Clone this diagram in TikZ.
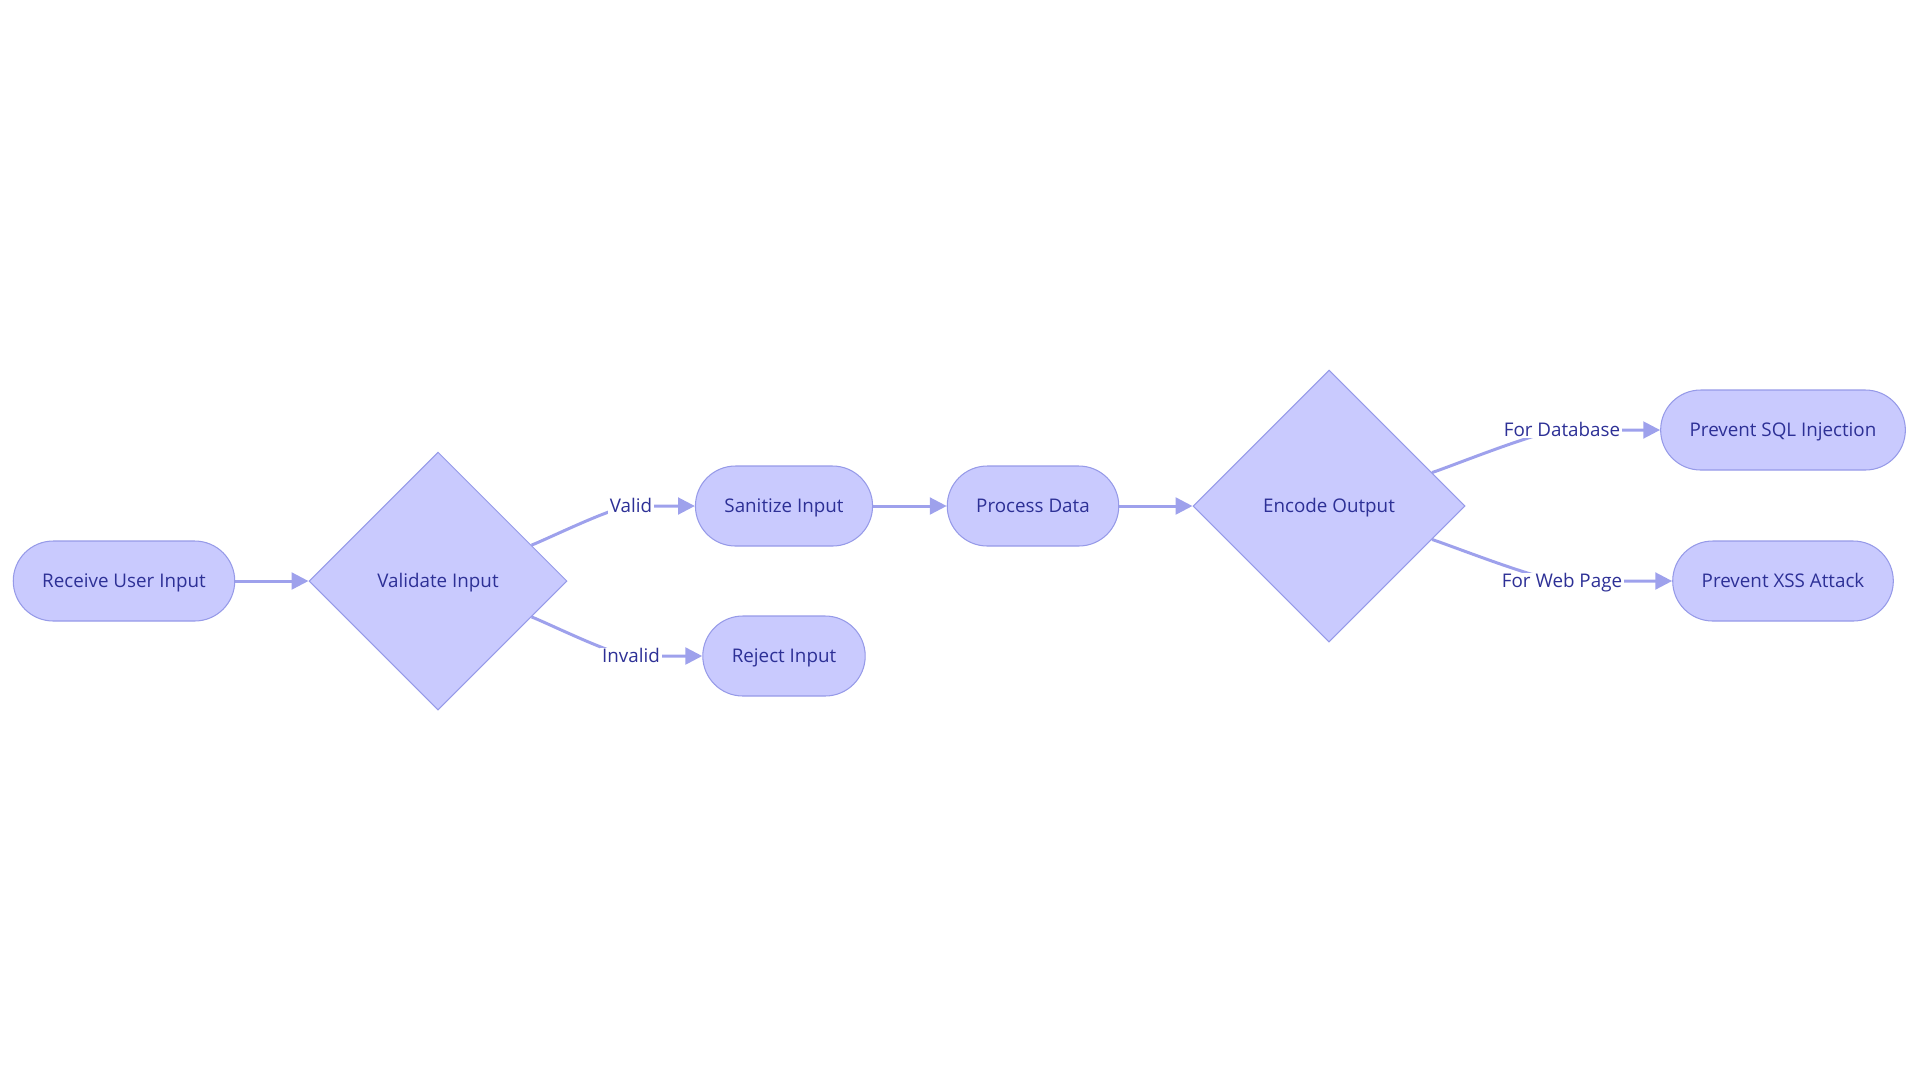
\documentclass[tikz,border=0pt]{standalone}
\usepackage{fontspec}
\setmainfont{Open Sans}
\usepackage{tikz}
\usetikzlibrary{shapes.geometric, arrows.meta, positioning, backgrounds}
\definecolor{nodefill}{RGB}{201, 202, 254}
\definecolor{nodeborder}{RGB}{150, 154, 232}
\definecolor{linkcolor}{RGB}{158, 161, 236}
\definecolor{textblue}{RGB}{45, 48, 150}

\begin{document}
\begin{tikzpicture}[
        x=0.02cm, y=-0.02cm,
        font=\fontsize{10.7}{13}\selectfont,
        every node/.style={text height=0.72em, text depth=0pt},
        process/.style={rectangle, rounded corners=0.8cm, draw=nodeborder, fill=nodefill, line width=0.6pt, minimum height=1.6cm, inner xsep=0.58cm, text=textblue},
        decision/.style={diamond, aspect=1, draw=nodeborder, fill=nodefill, line width=0.6pt, inner sep=0pt, text=textblue},
        edgelabel/.style={fill=white, inner sep=1pt, text=textblue},
        link/.style={-{Triangle[length=9.6pt, width=9.5pt]}, linkcolor, line width=1.7pt}
    ]
    \useasboundingbox (0,0) rectangle (1920,1080);

    % Input check
    \node[process] (recv) at (124, 581) {Receive User Input};
    \node[decision, minimum size=5.16cm] (val) at (438, 581) {Validate Input};
    \node[process] (san) at (784, 506) {Sanitize Input};
    \node[process] (rej) at (784, 656) {Reject Input};

    % Processing and encoding
    \node[process] (proc) at (1033, 506) {Process Data};
    \node[decision, minimum size=5.44cm] (enc) at (1329, 506) {Encode Output};
    \node[process] (sql) at (1783, 430) {Prevent SQL Injection};
    \node[process] (xss) at (1783, 581) {Prevent XSS Attack};

    % Edge labels
    \node[edgelabel] (lvalid) at (631, 506) {Valid};
    \node[edgelabel] (linvalid) at (631, 656) {Invalid};
    \node[edgelabel] (ldb) at (1562, 430) {For Database};
    \node[edgelabel] (lweb) at (1562, 581) {For Web Page};

    \begin{scope}[on background layer]
        % Straight links
        \foreach \a/\b in {recv/val, san/proc, proc/enc} {
            \draw[link] (\a) -- (\b);
        }
        % Branch links through their labels
        \foreach \src/\ang/\lab/\dst in {val/21/lvalid/san, val/-21/linvalid/rej, enc/18/ldb/sql, enc/-18/lweb/xss} {
            \draw[link] (\src.\ang) to[out=\ang, in=180, looseness=0.4] (\lab.center) -- (\dst);
        }
    \end{scope}
\end{tikzpicture}
\end{document}
